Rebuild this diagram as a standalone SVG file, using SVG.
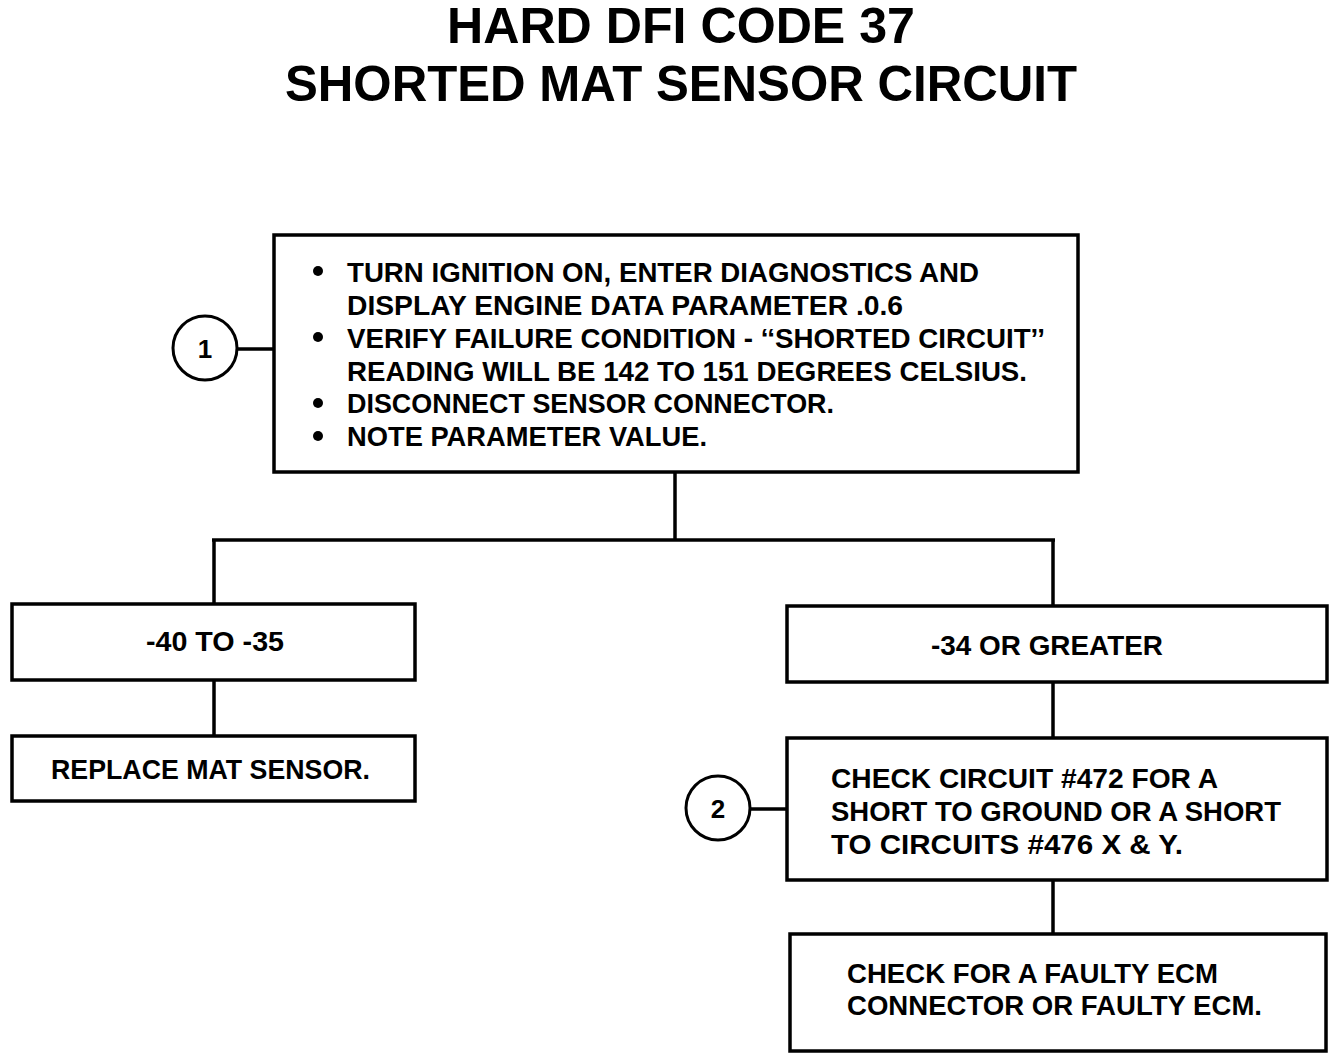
<svg xmlns="http://www.w3.org/2000/svg" width="1344" height="1060" viewBox="0 0 1344 1060">
<style>
  .box { fill: #fff; stroke: #000; stroke-width: 3.5; }
  .circ { fill: #fff; stroke: #000; stroke-width: 3; }
  .wire { fill: none; stroke: #000; stroke-width: 3.5; }
  .t { font-family: "Liberation Sans", Arial, sans-serif; font-weight: bold; font-size: 28px; fill: #000; }
  .title { font-family: "Liberation Sans", Arial, sans-serif; font-weight: bold; font-size: 50px; fill: #000; }
  .num { font-family: "Liberation Sans", Arial, sans-serif; font-weight: bold; font-size: 26px; fill: #000; text-anchor: middle; }
</style>
<rect x="0" y="0" width="1344" height="1060" fill="#fff"/>

<g id="title">
  <text class="title" x="447" y="43" textLength="468" lengthAdjust="spacingAndGlyphs">HARD DFI CODE 37</text>
  <text class="title" x="285" y="101" textLength="792" lengthAdjust="spacingAndGlyphs">SHORTED MAT SENSOR CIRCUIT</text>
</g>

<g id="connectors">
  <line class="wire" x1="675" y1="472" x2="675" y2="540"/>
  <line class="wire" x1="212" y1="540" x2="1055" y2="540"/>
  <line class="wire" x1="214" y1="540" x2="214" y2="604"/>
  <line class="wire" x1="1053" y1="540" x2="1053" y2="606"/>
  <line class="wire" x1="214" y1="680" x2="214" y2="736"/>
  <line class="wire" x1="1053" y1="682" x2="1053" y2="738"/>
  <line class="wire" x1="1053" y1="880" x2="1053" y2="934"/>
  <line class="wire" x1="237" y1="349" x2="274" y2="349"/>
  <line class="wire" x1="750" y1="809" x2="786" y2="809"/>
</g>

<g id="step1">
  <rect class="box" x="274" y="235" width="804" height="237"/>
  <circle cx="318" cy="271" r="5"/>
  <circle cx="318" cy="337" r="5"/>
  <circle cx="318" cy="403" r="5"/>
  <circle cx="318" cy="436" r="5"/>
  <text class="t" x="347" y="282" textLength="632" lengthAdjust="spacingAndGlyphs">TURN IGNITION ON, ENTER DIAGNOSTICS AND</text>
  <text class="t" x="347" y="315" textLength="556" lengthAdjust="spacingAndGlyphs">DISPLAY ENGINE DATA PARAMETER .0.6</text>
  <text class="t" x="347" y="348" textLength="698" lengthAdjust="spacingAndGlyphs">VERIFY FAILURE CONDITION - ‘‘SHORTED CIRCUIT’’</text>
  <text class="t" x="347" y="381" textLength="680" lengthAdjust="spacingAndGlyphs">READING WILL BE 142 TO 151 DEGREES CELSIUS.</text>
  <text class="t" x="347" y="413" textLength="487" lengthAdjust="spacingAndGlyphs">DISCONNECT SENSOR CONNECTOR.</text>
  <text class="t" x="347" y="446" textLength="360" lengthAdjust="spacingAndGlyphs">NOTE PARAMETER VALUE.</text>
</g>

<g id="marker1">
  <circle class="circ" cx="205" cy="348" r="32"/>
  <text class="num" x="205" y="358">1</text>
</g>

<g id="range-low">
  <rect class="box" x="12" y="604" width="403" height="76"/>
  <text class="t" x="146" y="651" textLength="138" lengthAdjust="spacingAndGlyphs">-40 TO -35</text>
</g>

<g id="replace-sensor">
  <rect class="box" x="12" y="736" width="403" height="65"/>
  <text class="t" x="51" y="779" textLength="319" lengthAdjust="spacingAndGlyphs">REPLACE MAT SENSOR.</text>
</g>

<g id="range-high">
  <rect class="box" x="787" y="606" width="540" height="76"/>
  <text class="t" x="931" y="655" textLength="232" lengthAdjust="spacingAndGlyphs">-34 OR GREATER</text>
</g>

<g id="check-circuit">
  <rect class="box" x="787" y="738" width="540" height="142"/>
  <text class="t" x="831" y="788" textLength="387" lengthAdjust="spacingAndGlyphs">CHECK CIRCUIT #472 FOR A</text>
  <text class="t" x="831" y="821" textLength="450" lengthAdjust="spacingAndGlyphs">SHORT TO GROUND OR A SHORT</text>
  <text class="t" x="831" y="854" textLength="352" lengthAdjust="spacingAndGlyphs">TO CIRCUITS #476 X &amp; Y.</text>
</g>

<g id="marker2">
  <circle class="circ" cx="718" cy="808" r="32"/>
  <text class="num" x="718" y="818">2</text>
</g>

<g id="check-ecm">
  <rect class="box" x="790" y="934" width="536" height="117"/>
  <text class="t" x="847" y="983" textLength="371" lengthAdjust="spacingAndGlyphs">CHECK FOR A FAULTY ECM</text>
  <text class="t" x="847" y="1015" textLength="415" lengthAdjust="spacingAndGlyphs">CONNECTOR OR FAULTY ECM.</text>
</g>
</svg>
